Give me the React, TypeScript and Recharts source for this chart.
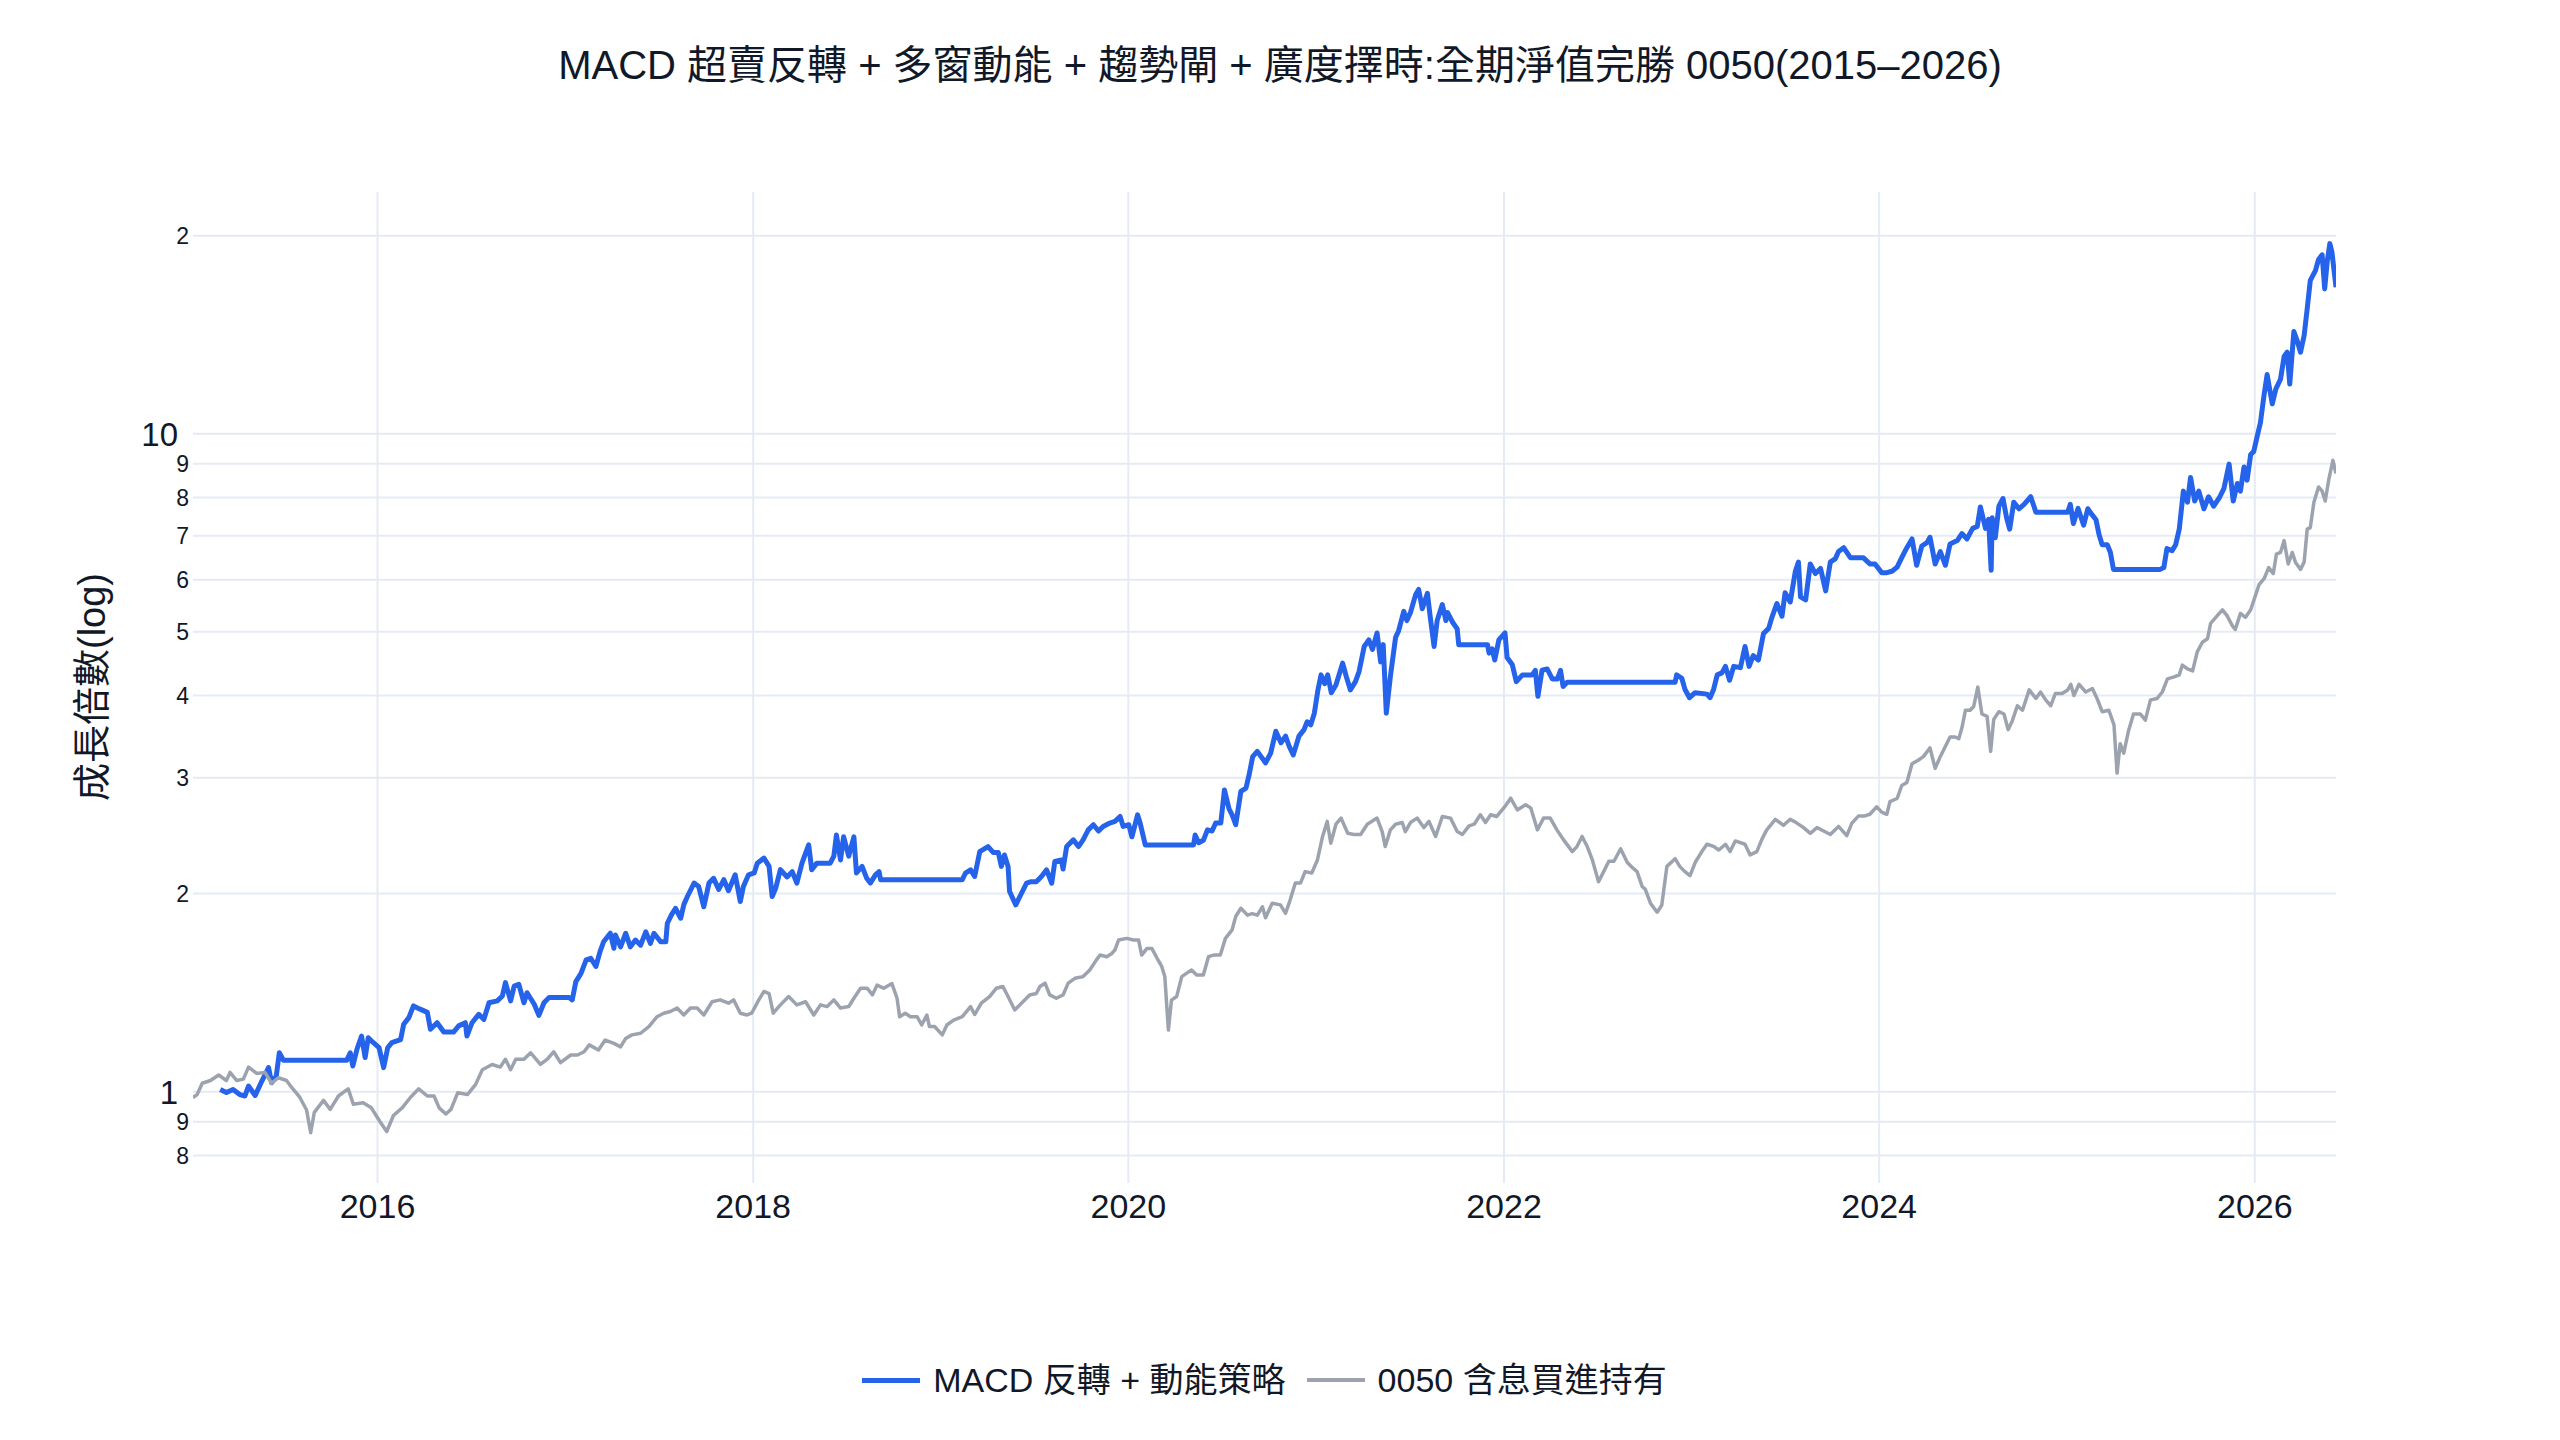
import React from 'react';
import { LineChart, Line, XAxis, YAxis, CartesianGrid } from 'recharts';

// 0050 含息買進持有(灰線)
const benchmarkDates = [
  '2015-01-07', '2015-01-15', '2015-01-25', '2015-02-10', '2015-02-26', '2015-03-13', '2015-03-20', '2015-04-02', '2015-04-15', '2015-04-25',
  '2015-05-11', '2015-05-27', '2015-06-09', '2015-06-22', '2015-07-08', '2015-07-18', '2015-08-03', '2015-08-16', '2015-08-24', '2015-08-31',
  '2015-09-18', '2015-10-01', '2015-10-17', '2015-11-05', '2015-11-15', '2015-12-04', '2015-12-20', '2016-01-06', '2016-01-19', '2016-02-01',
  '2016-02-18', '2016-03-05', '2016-03-21', '2016-04-07', '2016-04-20', '2016-04-30', '2016-05-13', '2016-05-23', '2016-06-05', '2016-06-24',
  '2016-07-10', '2016-07-23', '2016-08-11', '2016-08-27', '2016-09-06', '2016-09-16', '2016-09-26', '2016-10-12', '2016-10-25', '2016-11-13',
  '2016-11-26', '2016-12-09', '2016-12-22', '2017-01-11', '2017-01-24', '2017-02-06', '2017-02-16', '2017-03-06', '2017-03-19', '2017-04-05',
  '2017-04-18', '2017-04-28', '2017-05-10', '2017-05-27', '2017-06-12', '2017-06-28', '2017-07-11', '2017-07-24', '2017-08-06', '2017-08-19',
  '2017-09-01', '2017-09-14', '2017-09-27', '2017-10-13', '2017-10-29', '2017-11-14', '2017-11-24', '2017-12-07', '2017-12-20', '2017-12-29',
  '2018-01-12', '2018-01-22', '2018-02-01', '2018-02-09', '2018-02-23', '2018-03-11', '2018-03-27', '2018-04-13', '2018-04-29', '2018-05-12',
  '2018-05-25', '2018-06-07', '2018-06-20', '2018-07-06', '2018-07-16', '2018-07-29', '2018-08-11', '2018-08-21', '2018-08-30', '2018-09-12',
  '2018-09-28', '2018-10-08', '2018-10-13', '2018-10-24', '2018-11-03', '2018-11-16', '2018-11-25', '2018-12-05', '2018-12-10', '2018-12-20',
  '2019-01-04', '2019-01-13', '2019-01-26', '2019-02-12', '2019-02-28', '2019-03-08', '2019-03-21', '2019-04-06', '2019-04-19', '2019-05-02',
  '2019-05-12', '2019-05-25', '2019-06-10', '2019-06-23', '2019-07-06', '2019-07-13', '2019-07-23', '2019-08-01', '2019-08-14', '2019-08-27',
  '2019-09-06', '2019-09-19', '2019-10-05', '2019-10-18', '2019-10-31', '2019-11-07', '2019-11-20', '2019-11-30', '2019-12-06', '2019-12-13',
  '2019-12-29', '2020-01-11', '2020-01-21', '2020-01-27', '2020-02-06', '2020-02-16', '2020-02-26', '2020-03-06', '2020-03-12', '2020-03-19',
  '2020-03-25', '2020-04-04', '2020-04-14', '2020-04-23', '2020-05-03', '2020-05-13', '2020-05-26', '2020-06-05', '2020-06-15', '2020-06-28',
  '2020-07-08', '2020-07-21', '2020-07-28', '2020-08-07', '2020-08-20', '2020-08-29', '2020-09-08', '2020-09-18', '2020-09-24', '2020-10-07',
  '2020-10-23', '2020-11-02', '2020-11-11', '2020-11-21', '2020-12-01', '2020-12-10', '2020-12-23', '2021-01-03', '2021-01-13', '2021-01-22',
  '2021-01-29', '2021-02-08', '2021-02-18', '2021-03-03', '2021-03-15', '2021-03-28', '2021-04-10', '2021-04-29', '2021-05-09', '2021-05-15',
  '2021-05-25', '2021-06-04', '2021-06-17', '2021-06-23', '2021-07-03', '2021-07-16', '2021-07-29', '2021-08-08', '2021-08-21', '2021-09-03',
  '2021-09-19', '2021-10-02', '2021-10-12', '2021-10-25', '2021-11-04', '2021-11-16', '2021-11-26', '2021-12-06', '2021-12-18', '2022-01-03',
  '2022-01-14', '2022-01-27', '2022-02-12', '2022-02-22', '2022-03-07', '2022-03-19', '2022-04-01', '2022-04-14', '2022-04-27', '2022-05-14',
  '2022-05-23', '2022-06-02', '2022-06-12', '2022-06-22', '2022-07-04', '2022-07-14', '2022-07-24', '2022-08-03', '2022-08-16', '2022-08-29',
  '2022-09-08', '2022-09-17', '2022-09-27', '2022-10-03', '2022-10-13', '2022-10-26', '2022-11-04', '2022-11-14', '2022-11-30', '2022-12-09',
  '2022-12-19', '2022-12-29', '2023-01-08', '2023-01-21', '2023-01-31', '2023-02-13', '2023-02-23', '2023-03-08', '2023-03-17', '2023-03-27',
  '2023-04-15', '2023-04-25', '2023-05-08', '2023-05-18', '2023-05-27', '2023-06-13', '2023-06-29', '2023-07-12', '2023-07-25', '2023-08-07',
  '2023-08-20', '2023-09-02', '2023-09-15', '2023-09-28', '2023-10-14', '2023-10-30', '2023-11-09', '2023-11-22', '2023-12-04', '2023-12-14',
  '2023-12-27', '2024-01-06', '2024-01-16', '2024-01-22', '2024-02-05', '2024-02-14', '2024-02-24', '2024-03-05', '2024-03-17', '2024-03-27',
  '2024-04-09', '2024-04-19', '2024-04-29', '2024-05-09', '2024-05-18', '2024-05-28', '2024-06-04', '2024-06-10', '2024-06-17', '2024-06-26',
  '2024-07-03', '2024-07-11', '2024-07-19', '2024-07-29', '2024-08-05', '2024-08-11', '2024-08-21', '2024-08-31', '2024-09-08', '2024-09-16',
  '2024-09-26', '2024-10-06', '2024-10-19', '2024-11-01', '2024-11-10', '2024-11-20', '2024-11-30', '2024-12-09', '2024-12-22', '2025-01-02',
  '2025-01-08', '2025-01-14', '2025-01-24', '2025-02-06', '2025-02-19', '2025-02-28', '2025-03-10', '2025-03-23', '2025-04-02', '2025-04-08',
  '2025-04-14', '2025-04-21', '2025-04-30', '2025-05-10', '2025-05-23', '2025-06-02', '2025-06-12', '2025-06-25', '2025-07-05', '2025-07-15',
  '2025-07-28', '2025-08-07', '2025-08-13', '2025-08-23', '2025-09-02', '2025-09-11', '2025-09-21', '2025-10-01', '2025-10-07', '2025-10-20',
  '2025-10-30', '2025-11-08', '2025-11-18', '2025-11-24', '2025-12-04', '2025-12-14', '2025-12-24', '2026-01-03', '2026-01-09', '2026-01-19',
  '2026-01-28', '2026-02-06', '2026-02-12', '2026-02-20', '2026-02-27', '2026-03-07', '2026-03-15', '2026-03-21', '2026-03-31', '2026-04-07',
  '2026-04-13', '2026-04-19', '2026-04-26', '2026-05-05', '2026-05-12', '2026-05-18', '2026-05-25', '2026-06-02', '2026-06-08',
];
const benchmarkValues = [
  0.98, 0.99, 1.03, 1.04, 1.06, 1.04, 1.07, 1.04, 1.045, 1.09,
  1.066, 1.07, 1.03, 1.05, 1.04, 1.015, 0.98, 0.938, 0.866, 0.93,
  0.97, 0.94, 0.985, 1.01, 0.957, 0.962, 0.945, 0.9, 0.87, 0.92,
  0.945, 0.98, 1.01, 0.985, 0.985, 0.945, 0.925, 0.94, 0.996, 0.99,
  1.026, 1.08, 1.1, 1.09, 1.12, 1.08, 1.12, 1.12, 1.146, 1.1,
  1.12, 1.15, 1.107, 1.137, 1.137, 1.15, 1.178, 1.157, 1.198, 1.184,
  1.17, 1.205, 1.22, 1.227, 1.256, 1.3, 1.316, 1.324, 1.34, 1.308,
  1.34, 1.34, 1.308, 1.37, 1.379, 1.363, 1.379, 1.316, 1.308, 1.316,
  1.379, 1.42, 1.41, 1.316, 1.355, 1.395, 1.355, 1.37, 1.308, 1.355,
  1.347, 1.379, 1.34, 1.347, 1.387, 1.436, 1.436, 1.403, 1.452, 1.436,
  1.46, 1.387, 1.3, 1.316, 1.3, 1.3, 1.263, 1.308, 1.256, 1.256,
  1.22, 1.263, 1.285, 1.3, 1.347, 1.31, 1.363, 1.395, 1.436, 1.445,
  1.395, 1.331, 1.37, 1.403, 1.41, 1.445, 1.462, 1.403, 1.387, 1.403,
  1.462, 1.487, 1.496, 1.531, 1.586, 1.613, 1.604, 1.622, 1.643, 1.7,
  1.71, 1.7, 1.7, 1.613, 1.65, 1.65, 1.595, 1.55, 1.496, 1.241,
  1.378, 1.395, 1.496, 1.513, 1.531, 1.504, 1.504, 1.604, 1.613, 1.613,
  1.71, 1.762, 1.846, 1.9, 1.855, 1.865, 1.855, 1.91, 1.838, 1.934,
  1.923, 1.867, 1.957, 2.075, 2.075, 2.16, 2.15, 2.25, 2.443, 2.575,
  2.386, 2.55, 2.605, 2.47, 2.46, 2.46, 2.55, 2.605, 2.485, 2.358,
  2.5, 2.55, 2.565, 2.485, 2.565, 2.605, 2.52, 2.575, 2.443, 2.62,
  2.605, 2.485, 2.46, 2.535, 2.55, 2.636, 2.565, 2.636, 2.62, 2.714,
  2.793, 2.68, 2.73, 2.7, 2.5, 2.605, 2.605, 2.5, 2.414, 2.317,
  2.358, 2.443, 2.358, 2.25, 2.085, 2.16, 2.24, 2.24, 2.34, 2.23,
  2.19, 2.16, 2.05, 2.03, 1.934, 1.874, 1.92, 2.2, 2.26, 2.2,
  2.16, 2.13, 2.23, 2.317, 2.377, 2.36, 2.33, 2.377, 2.317, 2.405,
  2.377, 2.29, 2.317, 2.42, 2.498, 2.594, 2.54, 2.594, 2.56, 2.52,
  2.47, 2.52, 2.49, 2.46, 2.53, 2.45, 2.56, 2.625, 2.625, 2.64,
  2.71, 2.66, 2.64, 2.76, 2.79, 2.92, 2.95, 3.15, 3.19, 3.23,
  3.33, 3.1, 3.23, 3.35, 3.46, 3.46, 3.44, 3.57, 3.8, 3.8,
  3.85, 4.12, 3.75, 3.72, 3.29, 3.68, 3.78, 3.75, 3.55, 3.66,
  3.86, 3.8, 4.08, 3.96, 4.05, 3.94, 3.86, 4.03, 4.03, 4.08,
  4.16, 4.0, 4.16, 4.05, 4.1, 3.96, 3.78, 3.8, 3.61, 3.05,
  3.38, 3.27, 3.53, 3.75, 3.75, 3.67, 3.94, 3.96, 4.05, 4.24,
  4.27, 4.3, 4.45, 4.39, 4.36, 4.66, 4.82, 4.88, 5.15, 5.29,
  5.4, 5.29, 5.11, 5.04, 5.33, 5.26, 5.4, 5.7, 5.89, 6.02,
  6.26, 6.13, 6.56, 6.6, 6.88, 6.34, 6.6, 6.38, 6.22, 6.38,
  7.16, 7.2, 7.87, 8.3, 8.18, 7.9, 8.52, 9.11, 8.7,
];

// MACD 反轉 + 動能策略(藍線)
const strategyDates = [
  '2015-03-01', '2015-03-13', '2015-03-26', '2015-04-08', '2015-04-18', '2015-04-25', '2015-05-08', '2015-05-21', '2015-06-03', '2015-06-09',
  '2015-06-18', '2015-06-24', '2015-07-02', '2015-11-02', '2015-11-09', '2015-11-14', '2015-11-22', '2015-12-01', '2015-12-08', '2015-12-14',
  '2015-12-24', '2016-01-04', '2016-01-13', '2016-01-21', '2016-01-29', '2016-02-15', '2016-02-21', '2016-03-02', '2016-03-11', '2016-03-24',
  '2016-04-07', '2016-04-13', '2016-04-26', '2016-05-09', '2016-05-28', '2016-06-07', '2016-06-20', '2016-06-23', '2016-07-03', '2016-07-16',
  '2016-07-26', '2016-08-05', '2016-08-21', '2016-08-31', '2016-09-06', '2016-09-16', '2016-09-23', '2016-10-02', '2016-10-12', '2016-10-18',
  '2016-11-01', '2016-11-10', '2016-11-20', '2016-11-30', '2017-01-08', '2017-01-14', '2017-01-21', '2017-01-31', '2017-02-10', '2017-02-19',
  '2017-03-01', '2017-03-09', '2017-03-16', '2017-03-29', '2017-04-05', '2017-04-08', '2017-04-18', '2017-04-28', '2017-05-07', '2017-05-17',
  '2017-05-27', '2017-06-06', '2017-06-15', '2017-06-22', '2017-07-05', '2017-07-15', '2017-07-18', '2017-07-26', '2017-08-03', '2017-08-13',
  '2017-08-19', '2017-08-26', '2017-09-08', '2017-09-17', '2017-09-27', '2017-10-07', '2017-10-16', '2017-10-26', '2017-11-05', '2017-11-14',
  '2017-11-27', '2017-12-07', '2017-12-13', '2017-12-23', '2018-01-03', '2018-01-09', '2018-01-22', '2018-02-01', '2018-02-07', '2018-02-14',
  '2018-02-23', '2018-03-08', '2018-03-18', '2018-03-27', '2018-04-06', '2018-04-19', '2018-04-25', '2018-05-05', '2018-05-31', '2018-06-07',
  '2018-06-12', '2018-06-20', '2018-06-26', '2018-07-06', '2018-07-16', '2018-07-21', '2018-08-01', '2018-08-10', '2018-08-17', '2018-08-27',
  '2018-09-03', '2018-09-06', '2019-02-12', '2019-02-18', '2019-02-28', '2019-03-08', '2019-03-18', '2019-04-03', '2019-04-13', '2019-04-23',
  '2019-04-29', '2019-05-05', '2019-05-12', '2019-05-15', '2019-05-27', '2019-06-04', '2019-06-17', '2019-06-26', '2019-07-06', '2019-07-16',
  '2019-07-26', '2019-08-05', '2019-08-11', '2019-08-24', '2019-08-27', '2019-09-03', '2019-09-16', '2019-09-26', '2019-10-05', '2019-10-15',
  '2019-10-25', '2019-11-04', '2019-11-13', '2019-11-26', '2019-12-06', '2019-12-16', '2019-12-22', '2020-01-02', '2020-01-08', '2020-01-19',
  '2020-01-24', '2020-02-03', '2020-05-07', '2020-05-10', '2020-05-17', '2020-05-26', '2020-06-03', '2020-06-12', '2020-06-19', '2020-06-29',
  '2020-07-06', '2020-07-15', '2020-07-21', '2020-07-28', '2020-08-07', '2020-08-17', '2020-08-23', '2020-08-30', '2020-09-08', '2020-09-18',
  '2020-09-24', '2020-10-04', '2020-10-14', '2020-10-24', '2020-11-02', '2020-11-09', '2020-11-17', '2020-11-28', '2020-12-08', '2020-12-14',
  '2020-12-21', '2020-12-28', '2021-01-04', '2021-01-10', '2021-01-17', '2021-01-23', '2021-01-30', '2021-02-08', '2021-02-21', '2021-02-28',
  '2021-03-08', '2021-03-18', '2021-03-25', '2021-04-04', '2021-04-13', '2021-04-20', '2021-04-29', '2021-05-06', '2021-05-11', '2021-05-17',
  '2021-05-25', '2021-06-04', '2021-06-10', '2021-06-20', '2021-06-26', '2021-07-03', '2021-07-13', '2021-07-19', '2021-07-26', '2021-08-05',
  '2021-08-11', '2021-08-18', '2021-08-24', '2021-09-03', '2021-09-10', '2021-09-13', '2021-09-23', '2021-10-02', '2021-10-05', '2021-11-30',
  '2021-12-03', '2021-12-09', '2021-12-14', '2021-12-22', '2022-01-03', '2022-01-07', '2022-01-17', '2022-01-25', '2022-02-06', '2022-02-25',
  '2022-03-03', '2022-03-08', '2022-03-16', '2022-03-26', '2022-04-05', '2022-04-15', '2022-04-21', '2022-04-26', '2022-05-04', '2022-11-30',
  '2022-12-03', '2022-12-13', '2022-12-19', '2022-12-28', '2023-01-08', '2023-01-31', '2023-02-06', '2023-02-13', '2023-02-20', '2023-03-01',
  '2023-03-08', '2023-03-16', '2023-03-24', '2023-04-06', '2023-04-15', '2023-04-23', '2023-05-01', '2023-05-11', '2023-05-21', '2023-05-31',
  '2023-06-06', '2023-06-16', '2023-06-26', '2023-07-02', '2023-07-12', '2023-07-22', '2023-07-28', '2023-08-01', '2023-08-11', '2023-08-20',
  '2023-08-30', '2023-09-09', '2023-09-19', '2023-09-28', '2023-10-08', '2023-10-14', '2023-10-24', '2023-11-06', '2023-12-01', '2023-12-14',
  '2023-12-24', '2024-01-06', '2024-01-16', '2024-01-26', '2024-02-05', '2024-02-14', '2024-02-24', '2024-03-05', '2024-03-14', '2024-03-24',
  '2024-04-03', '2024-04-09', '2024-04-19', '2024-04-29', '2024-05-09', '2024-05-18', '2024-06-01', '2024-06-10', '2024-06-20', '2024-07-01',
  '2024-07-10', '2024-07-16', '2024-07-26', '2024-08-01', '2024-08-06', '2024-08-08', '2024-08-14', '2024-08-21', '2024-08-29', '2024-09-05',
  '2024-09-11', '2024-09-19', '2024-09-29', '2024-10-09', '2024-10-22', '2024-11-01', '2025-01-02', '2025-01-07', '2025-01-13', '2025-01-22',
  '2025-02-02', '2025-02-10', '2025-02-19', '2025-02-26', '2025-03-04', '2025-03-10', '2025-03-20', '2025-03-26', '2025-04-01', '2025-07-01',
  '2025-07-08', '2025-07-14', '2025-07-24', '2025-07-31', '2025-08-07', '2025-08-15', '2025-08-23', '2025-08-29', '2025-09-06', '2025-09-14',
  '2025-09-24', '2025-10-03', '2025-10-13', '2025-10-25', '2025-11-02', '2025-11-12', '2025-11-20', '2025-11-28', '2025-12-04', '2025-12-11',
  '2025-12-17', '2025-12-24', '2025-12-30', '2026-01-06', '2026-01-12', '2026-01-19', '2026-01-25', '2026-02-04', '2026-02-11', '2026-02-20',
  '2026-02-27', '2026-03-05', '2026-03-10', '2026-03-18', '2026-03-25', '2026-03-31', '2026-04-07', '2026-04-13', '2026-04-19', '2026-04-29',
  '2026-05-05', '2026-05-12', '2026-05-17', '2026-05-22', '2026-05-27', '2026-05-31', '2026-06-08',
];
const strategyValues = [
  1.008, 0.997, 1.008, 0.99, 0.985, 1.02, 0.987, 1.038, 1.088, 1.032,
  1.056, 1.146, 1.116, 1.116, 1.146, 1.094, 1.16, 1.215, 1.127, 1.208,
  1.187, 1.167, 1.088, 1.167, 1.187, 1.2, 1.266, 1.296, 1.35, 1.335,
  1.32, 1.244, 1.273, 1.232, 1.232, 1.259, 1.273, 1.215, 1.273, 1.311,
  1.288, 1.365, 1.374, 1.398, 1.465, 1.374, 1.447, 1.456, 1.365, 1.414,
  1.358, 1.306, 1.365, 1.391, 1.39, 1.379, 1.47, 1.513, 1.586, 1.595,
  1.55, 1.633, 1.69, 1.741, 1.652, 1.73, 1.66, 1.741, 1.66, 1.7,
  1.67, 1.75, 1.68, 1.741, 1.69, 1.69, 1.803, 1.857, 1.9, 1.835,
  1.923, 1.98, 2.075, 2.05, 1.91, 2.075, 2.11, 2.03, 2.1, 2.02,
  2.136, 1.945, 2.05, 2.136, 2.15, 2.225, 2.265, 2.2, 1.98, 2.04,
  2.175, 2.12, 2.16, 2.075, 2.225, 2.373, 2.175, 2.225, 2.225, 2.28,
  2.456, 2.25, 2.44, 2.28, 2.44, 2.15, 2.2, 2.11, 2.075, 2.136,
  2.16, 2.1, 2.1, 2.148, 2.173, 2.124, 2.317, 2.358, 2.31, 2.31,
  2.2, 2.29, 2.2, 2.015, 1.923, 1.98, 2.074, 2.085, 2.085, 2.124,
  2.173, 2.074, 2.238, 2.25, 2.18, 2.358, 2.414, 2.358, 2.414, 2.5,
  2.545, 2.49, 2.53, 2.56, 2.575, 2.62, 2.53, 2.545, 2.44, 2.635,
  2.56, 2.372, 2.372, 2.455, 2.39, 2.41, 2.5, 2.49, 2.56, 2.56,
  2.875, 2.69, 2.635, 2.545, 2.86, 2.894, 3.03, 3.23, 3.29, 3.21,
  3.16, 3.27, 3.53, 3.39, 3.47, 3.35, 3.25, 3.47, 3.55, 3.65,
  3.61, 3.76, 4.08, 4.3, 4.17, 4.3, 4.04, 4.15, 4.48, 4.28,
  4.08, 4.2, 4.35, 4.75, 4.86, 4.7, 4.98, 4.5, 4.78, 3.76,
  4.28, 4.9, 5.02, 5.37, 5.2, 5.35, 5.69, 5.8, 5.42, 5.72,
  5.23, 4.75, 5.2, 5.5, 5.2, 5.35, 5.17, 5.05, 4.78, 4.78,
  4.64, 4.71, 4.53, 4.86, 4.98, 4.57, 4.46, 4.2, 4.3, 4.3,
  4.37, 3.99, 4.37, 4.39, 4.24, 4.24, 4.37, 4.13, 4.19, 4.19,
  4.3, 4.25, 4.09, 3.97, 4.04, 4.02, 3.97, 4.09, 4.3, 4.33,
  4.43, 4.22, 4.43, 4.41, 4.75, 4.43, 4.6, 4.53, 4.97, 5.06,
  5.25, 5.52, 5.28, 5.73, 5.55, 6.18, 6.38, 5.65, 5.59, 6.34,
  6.13, 6.24, 5.77, 6.38, 6.46, 6.62, 6.71, 6.48, 6.48, 6.34,
  6.34, 6.15, 6.15, 6.18, 6.27, 6.48, 6.71, 6.92, 6.31, 6.75,
  6.83, 6.96, 6.34, 6.62, 6.31, 6.8, 6.88, 7.05, 6.92, 7.18,
  7.23, 7.74, 7.18, 7.41, 6.2, 7.45, 6.95, 7.76, 7.97, 7.45,
  7.16, 7.87, 7.69, 7.81, 8.02, 7.6, 7.6, 7.81, 7.3, 7.7,
  7.26, 7.69, 7.52, 7.4, 7.02, 6.78, 6.78, 6.6, 6.22, 6.22,
  6.26, 6.69, 6.64, 6.78, 7.16, 8.18, 7.87, 8.58, 7.9, 8.18,
  7.69, 8.02, 7.76, 8.02, 8.26, 8.99, 7.9, 8.4, 8.18, 8.9,
  8.5, 9.3, 9.4, 9.94, 10.4, 11.45, 12.3, 11.1, 11.7, 12.1,
  13.1, 13.3, 11.9, 14.3, 13.8, 13.3, 14.1, 15.5, 17.1, 17.7,
  18.4, 18.7, 16.6, 18.3, 19.45, 18.9, 16.7,
];

const xTickYears = [2016, 2018, 2020, 2022, 2024, 2026];
const yTicks = [0.8, 0.9, 1, 2, 3, 4, 5, 6, 7, 8, 9, 10, 20];
const yTickLabels = ['8', '9', '1', '2', '3', '4', '5', '6', '7', '8', '9', '10', '2'];
const yMajorTicks = [1, 10];

const strategyName = 'MACD 反轉 + 動能策略';
const benchmarkName = '0050 含息買進持有';
const title = 'MACD 超賣反轉 + 多窗動能 + 趨勢閘 + 廣度擇時:全期淨值完勝 0050(2015–2026)';
const yTitle = '成長倍數(log)';

const BLUE = '#2563eb';
const GRAY = '#9ca3af';
const TEXT = '#111827';
const GRID = '#e6ebf3';
const FONT = '"Liberation Sans", Arial, "Noto Sans CJK TC", sans-serif';

const toRows = (dates: string[], values: number[]) =>
  dates.map((d, i) => ({ t: Date.parse(d), v: values[i] }));

const strategyData = toRows(strategyDates, strategyValues);
const benchmarkData = toRows(benchmarkDates, benchmarkValues);

const xDomain = [Date.parse('2015-01-07'), Date.parse('2026-06-08')];
const xTicks = xTickYears.map((y) => Date.UTC(y, 0, 1));

const YTick = ({ x, y, payload }: any) => {
  const i = yTicks.indexOf(payload.value);
  const major = yMajorTicks.includes(payload.value);
  return (
    <text
      x={major ? x - 11 : x}
      y={y}
      dy="0.36em"
      textAnchor="end"
      fontSize={major ? 33 : 23}
      fill={TEXT}
      fontFamily={FONT}
    >
      {yTickLabels[i]}
    </text>
  );
};

const LegendItem = ({ color, width, label }: { color: string; width: number; label: string }) => (
  <div style={{ display: 'flex', alignItems: 'center', marginRight: 21 }}>
    <div style={{ width: 58, height: width, background: color, marginRight: 13 }} />
    <span>{label}</span>
  </div>
);

const App: React.FC = () => {
  return (
    <div
      style={{
        position: 'absolute',
        top: 0,
        left: 0,
        width: 2560,
        height: 1440,
        background: '#fff',
        fontFamily: FONT,
        color: TEXT,
      }}
    >
      <div
        style={{
          position: 'absolute',
          top: 43,
          left: 0,
          width: 2560,
          textAlign: 'center',
          fontSize: 40,
          lineHeight: '44px',
        }}
      >
        {title}
      </div>

      <div
        style={{
          position: 'absolute',
          left: 88,
          top: 687,
          transform: 'translate(-50%, -50%) rotate(-90deg)',
          fontSize: 38,
          whiteSpace: 'nowrap',
        }}
      >
        {yTitle}
      </div>

      <LineChart
        width={2560}
        height={1440}
        margin={{ top: 192, right: 224, bottom: 197, left: 73 }}
      >
        <CartesianGrid stroke={GRID} strokeWidth={2} syncWithTicks />
        <XAxis
          type="number"
          dataKey="t"
          domain={xDomain}
          ticks={xTicks}
          interval={0}
          allowDataOverflow
          height={60}
          axisLine={false}
          tickLine={false}
          tickSize={0}
          tickMargin={11}
          tickFormatter={(t: number) => String(new Date(t).getUTCFullYear())}
          tick={{ fontSize: 34, fill: TEXT, fontFamily: FONT }}
        />
        <YAxis
          type="number"
          scale="log"
          domain={[0.7265, 23.3]}
          ticks={yTicks}
          interval={0}
          allowDataOverflow
          width={120}
          axisLine={false}
          tickLine={false}
          tickSize={0}
          tickMargin={4}
          tick={<YTick />}
        />
        <Line
          data={strategyData}
          dataKey="v"
          name={strategyName}
          type="linear"
          stroke={BLUE}
          strokeWidth={5}
          strokeLinejoin="round"
          dot={false}
          isAnimationActive={false}
        />
        <Line
          data={benchmarkData}
          dataKey="v"
          name={benchmarkName}
          type="linear"
          stroke={GRAY}
          strokeWidth={3.5}
          strokeLinejoin="round"
          dot={false}
          isAnimationActive={false}
        />
      </LineChart>

      <div
        style={{
          position: 'absolute',
          top: 1358,
          left: 0,
          width: 2550,
          display: 'flex',
          justifyContent: 'center',
          fontSize: 34,
          lineHeight: '44px',
        }}
      >
        <LegendItem color={BLUE} width={5} label={strategyName} />
        <LegendItem color={GRAY} width={4} label={benchmarkName} />
      </div>
    </div>
  );
};

export default App;
